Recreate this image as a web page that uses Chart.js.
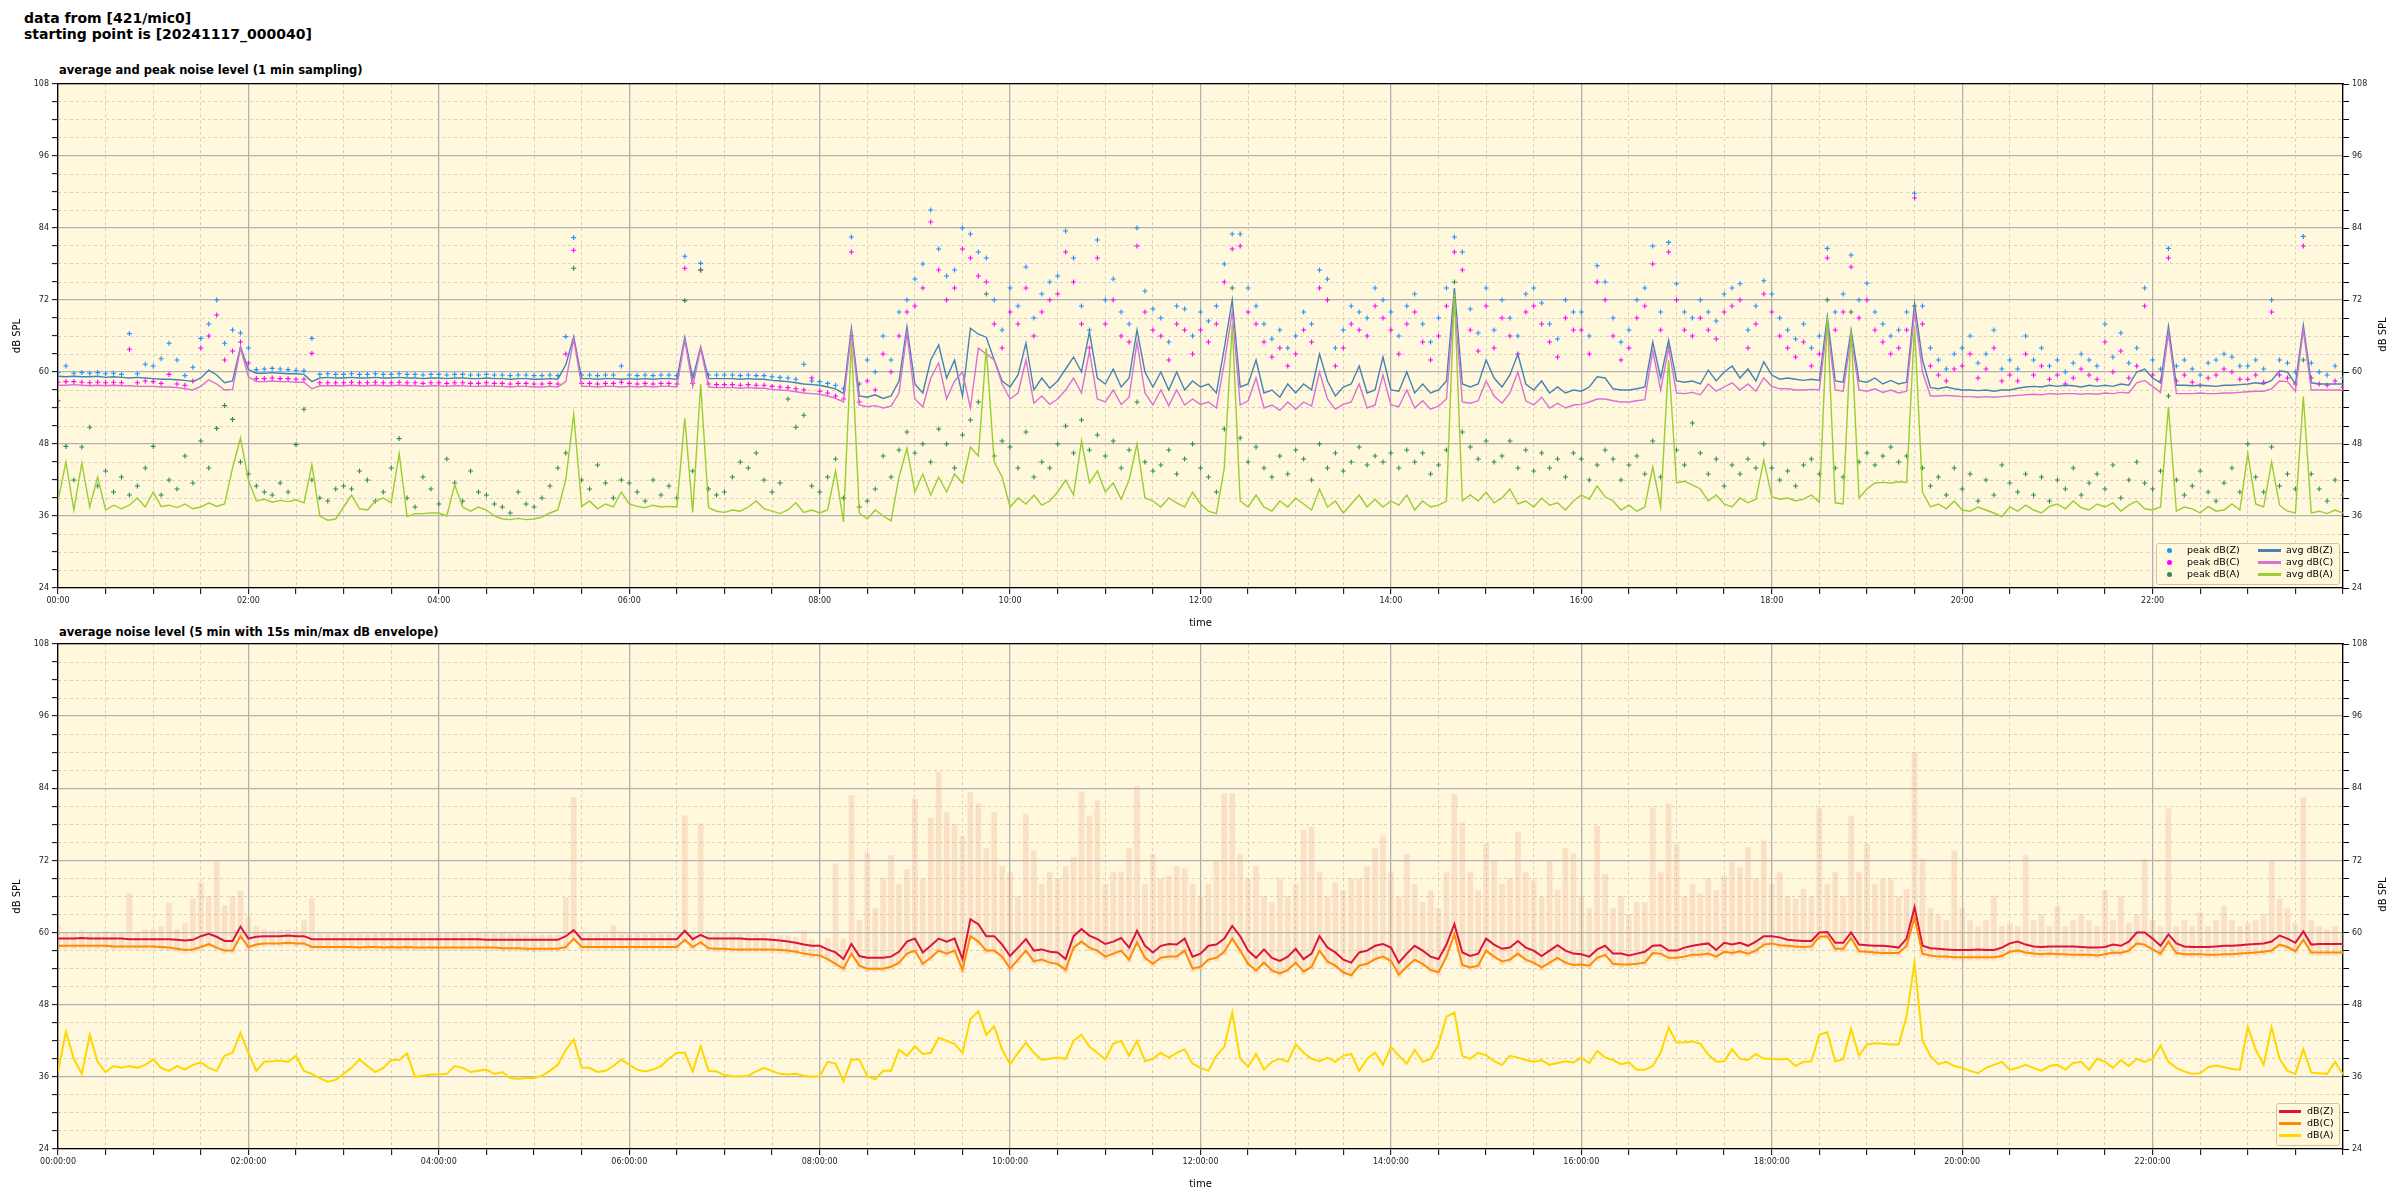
<!DOCTYPE html>
<html lang="en">
<head>
<meta charset="UTF-8">
<title>noise level 421/mic0</title>
<script src="https://cdn.jsdelivr.net/npm/chart.js"></script>
<style>
  body { margin: 0; width: 2400px; height: 1200px; background: #fff; font-family: "DejaVu Sans", sans-serif; position: relative; overflow: hidden; }
  .suptitle { position: absolute; left: 24px; top: 10px; font-size: 14px; font-weight: bold; line-height: 16px; }
  .subtitle { position: absolute; left: 59px; font-size: 11.5px; font-weight: bold; line-height: 14px; }
  canvas { position: absolute; left: 0; }
  .legend { position: absolute; background: rgba(255,248,220,0.85); border: 1px solid #d8c29a; border-radius: 3px; font-size: 9.5px; z-index: 2; }
  .legend span { position: absolute; white-space: nowrap; line-height: 12px; }
  .legend i { position: absolute; display: block; }
  .ylab-r { position: absolute; font-size: 10px; transform: rotate(-90deg); transform-origin: center; white-space: nowrap; }
</style>
</head>
<body>
<div class="suptitle">data from [421/mic0]<br>starting point is [20241117_000040]</div>
<div class="subtitle" style="top: 63px;">average and peak noise level (1 min sampling)</div>
<div class="subtitle" style="top: 625px;">average noise level (5 min with 15s min/max dB envelope)</div>
<canvas id="topChart" width="2400" height="559" style="top: 74px;"></canvas>
<canvas id="bottomChart" width="2400" height="560" style="top: 634px;"></canvas>
<div class="ylab-r" style="left: 2365px; top: 329px;">dB SPL</div>
<div class="ylab-r" style="left: 2365px; top: 889px;">dB SPL</div>

<div class="legend" style="left: 2156px; top: 543px; width: 182px; height: 40px;">
  <i style="left: 10px; top: 4px; width: 5px; height: 5px; border-radius: 50%; background: #1e90ff;"></i>
  <span style="left: 30px; top: 0px;">peak dB(Z)</span>
  <i style="left: 10px; top: 16px; width: 5px; height: 5px; border-radius: 50%; background: #ff00ff;"></i>
  <span style="left: 30px; top: 12px;">peak dB(C)</span>
  <i style="left: 10px; top: 28px; width: 5px; height: 5px; border-radius: 50%; background: #2e8b57;"></i>
  <span style="left: 30px; top: 24px;">peak dB(A)</span>
  <i style="left: 101px; top: 5px; width: 23px; height: 3px; background: #4682b4;"></i>
  <span style="left: 129px; top: 0px;">avg dB(Z)</span>
  <i style="left: 101px; top: 17px; width: 23px; height: 3px; background: #da70d6;"></i>
  <span style="left: 129px; top: 12px;">avg dB(C)</span>
  <i style="left: 101px; top: 29px; width: 23px; height: 3px; background: #9acd32;"></i>
  <span style="left: 129px; top: 24px;">avg dB(A)</span>
</div>

<div class="legend" style="left: 2276px; top: 1103px; width: 62px; height: 41px;">
  <i style="left: 2px; top: 6px; width: 22px; height: 3px; background: #dc143c;"></i>
  <span style="left: 30px; top: 1px;">dB(Z)</span>
  <i style="left: 2px; top: 18px; width: 22px; height: 3px; background: #ff8c00;"></i>
  <span style="left: 30px; top: 13px;">dB(C)</span>
  <i style="left: 2px; top: 30px; width: 22px; height: 3px; background: #ffd700;"></i>
  <span style="left: 30px; top: 25px;">dB(A)</span>
</div>

<script>
// x positions: minutes after 00:00, one sample every 5 minutes
const minutes = Array.from({ length: 289 }, (_, i) => i * 5);

const avgZ = [
  59.3, 59.2, 59.3, 59.2, 59.2, 59.3, 59.1, 59.2, 59.1, 59.0, 59.1, 59.0,
  58.9, 58.8, 58.8, 58.7, 58.6, 58.4, 59.0, 60.3, 59.5, 58.2, 58.5, 64.2,
  60.4, 59.8, 59.8, 59.9, 59.8, 59.7, 59.7, 59.6, 58.4, 59.0, 59.1, 59.0,
  59.0, 59.1, 59.0, 59.0, 59.1, 59.0, 59.0, 59.1, 59.0, 59.0, 58.9, 59.0,
  59.0, 58.9, 59.0, 59.0, 58.9, 58.9, 59.0, 58.9, 58.9, 58.8, 58.9, 58.9,
  58.8, 58.8, 58.9, 58.8, 61.2, 65.9, 58.9, 58.9, 58.8, 58.9, 58.9, 58.8,
  58.9, 58.8, 58.9, 58.8, 58.9, 58.9, 58.8, 65.8, 58.9, 64.2, 58.9, 58.9,
  58.9, 58.9, 58.8, 58.9, 58.8, 58.8, 58.6, 58.5, 58.4, 58.2, 58.0, 57.9,
  57.8, 57.5, 57.2, 56.4, 67.3, 56.0, 55.8, 56.2, 55.6, 56.0, 58.5, 67.5,
  58.0, 56.5, 62.0, 64.5, 59.0, 62.0, 56.0, 67.3, 66.3, 65.8, 62.0, 58.5,
  57.5, 59.5, 64.8, 57.0, 59.0, 57.3, 58.5, 60.5, 62.5, 60.0, 66.7, 59.0,
  58.0, 60.5, 57.5, 59.0, 67.0, 60.0, 57.5, 60.0, 57.0, 60.0, 57.0, 58.5,
  57.5, 58.0, 56.5, 64.0, 72.0, 57.5, 58.0, 62.0, 56.5, 57.0, 55.8, 58.0,
  56.5, 58.0, 57.0, 63.0, 58.5, 56.0, 57.5, 58.0, 61.0, 56.5, 57.0, 62.5,
  57.0, 56.8, 60.0, 56.5, 58.0, 56.5, 57.0, 58.5, 74.0, 58.0, 57.5, 58.0,
  62.0, 59.0, 57.5, 59.5, 63.0, 58.0, 57.0, 58.5, 56.5, 57.5, 56.5, 57.0,
  56.8, 57.5, 59.2, 59.0, 57.2, 57.0, 57.0, 57.2, 57.5, 65.0, 59.0, 65.3,
  58.5, 58.3, 58.5, 58.0, 60.3, 58.5, 60.0, 61.0, 59.0, 60.5, 58.5, 61.7,
  59.5, 58.8, 59.0, 58.8, 58.6, 58.8, 58.6, 69.2, 58.5, 58.3, 67.0, 58.5,
  58.3, 59.0, 58.0, 58.6, 58.0, 58.3, 71.4, 62.0, 57.4, 57.2, 57.5, 57.2,
  57.0, 57.0, 56.9, 57.0, 56.8, 57.0, 57.0, 57.3, 57.5, 57.6, 57.5, 57.8,
  57.6, 57.8, 57.7, 57.5, 57.8, 57.6, 57.8, 57.6, 58.0, 57.8, 60.0, 60.5,
  59.0, 58.2, 67.6, 57.8, 57.8, 57.7, 57.8, 57.7, 57.6, 57.8, 57.8, 57.9,
  58.0, 58.2, 58.0, 58.6, 60.2, 60.0, 58.0, 67.8, 58.2, 58.0, 58.0, 58.0,
  58.0
];
const avgC = [
  57.8, 57.8, 57.9, 57.8, 57.7, 57.8, 57.7, 57.8, 57.7, 57.7, 57.6, 57.6,
  57.6, 57.5, 57.5, 57.4, 57.2, 57.0, 57.6, 58.7, 58.0, 57.0, 57.1, 64.0,
  59.2, 58.4, 58.4, 58.5, 58.4, 58.4, 58.3, 58.3, 57.2, 57.7, 57.7, 57.7,
  57.7, 57.8, 57.7, 57.7, 57.8, 57.7, 57.7, 57.8, 57.7, 57.7, 57.6, 57.7,
  57.7, 57.6, 57.7, 57.7, 57.6, 57.6, 57.7, 57.6, 57.6, 57.5, 57.6, 57.6,
  57.5, 57.5, 57.6, 57.5, 58.4, 65.5, 57.6, 57.6, 57.5, 57.6, 57.6, 57.5,
  57.6, 57.5, 57.6, 57.5, 57.6, 57.6, 57.5, 65.3, 57.6, 64.0, 57.5, 57.4,
  57.4, 57.4, 57.3, 57.4, 57.3, 57.3, 57.1, 57.0, 56.9, 56.7, 56.5, 56.4,
  56.3, 56.0, 55.6, 55.0, 66.5, 54.5, 54.2, 54.4, 54.0, 54.3, 56.5, 66.5,
  55.5, 54.2, 59.0, 61.5, 55.5, 58.5, 60.0, 54.0, 64.0, 63.0, 62.0, 58.0,
  55.5, 56.5, 62.0, 54.8, 56.0, 54.6, 55.5, 57.0, 59.0, 56.5, 63.5, 55.5,
  55.0, 57.0, 54.6, 55.8, 65.0, 56.5, 54.5, 57.0, 54.4, 57.0, 54.5, 55.5,
  54.6, 55.0, 54.0, 61.5, 70.0, 54.5, 55.2, 59.0, 54.0, 54.5, 53.6, 55.0,
  53.8, 55.0, 54.3, 60.0, 55.5, 53.8, 54.6, 55.0, 58.0, 54.0, 54.5, 59.5,
  54.5, 54.2, 57.0, 54.0, 55.2, 53.8, 54.3, 55.5, 72.0, 55.0, 54.8, 55.2,
  58.5, 56.0, 54.8, 56.5, 60.0, 55.2, 54.5, 55.8, 54.0, 54.8, 54.0, 54.5,
  54.6, 55.0, 55.5, 55.5, 55.2, 55.0, 55.0, 55.2, 55.4, 63.5, 57.0, 64.0,
  56.5, 56.4, 56.6, 56.2, 58.0, 56.8, 57.5, 58.2, 57.0, 58.0, 56.8, 59.0,
  57.6, 57.2, 57.2, 57.0, 57.0, 57.1, 57.0, 68.0, 57.0, 56.8, 66.0, 57.0,
  56.8, 57.2, 56.6, 57.0, 56.5, 56.8, 70.0, 60.0, 56.0, 56.0, 56.1, 56.0,
  55.9, 55.9, 55.8, 55.9, 55.8, 55.9, 56.0, 56.1, 56.2, 56.3, 56.2, 56.4,
  56.3, 56.4, 56.4, 56.3, 56.4, 56.3, 56.5, 56.4, 56.6, 56.5, 58.2, 58.6,
  57.6, 56.6, 66.5, 56.4, 56.4, 56.4, 56.5, 56.4, 56.4, 56.5, 56.5, 56.6,
  56.7, 56.8, 56.8, 57.2, 58.5, 58.4, 56.8, 67.0, 57.0, 57.0, 57.0, 57.0,
  57.0
];
const avgA = [
  38.5, 45.0, 37.0, 44.8, 37.5, 42.5, 37.0, 37.8, 37.2, 37.8, 39.0, 37.5,
  40.0, 37.6, 37.8, 37.4, 38.0, 37.2, 37.5, 38.2, 37.6, 38.0, 44.0, 49.0,
  42.0, 38.5, 38.8, 38.3, 38.6, 38.4, 38.7, 38.2, 44.5, 36.0, 35.3, 35.5,
  37.5, 39.5, 37.2, 37.0, 38.5, 39.0, 38.2, 46.4, 35.9, 36.4, 36.4, 36.5,
  36.5, 36.0, 41.2, 37.5, 36.8, 37.5, 37.0, 36.0, 35.5, 35.4, 35.6, 35.4,
  35.5, 35.8, 36.5, 37.0, 42.0, 53.0, 37.6, 38.5, 37.2, 38.0, 37.5, 40.0,
  38.0, 37.6, 37.4, 37.8, 37.5, 37.6, 37.5, 52.3, 36.6, 58.0, 37.4, 36.8,
  36.6, 37.0, 36.8, 37.5, 38.5, 37.2, 36.8, 36.4, 37.0, 38.2, 36.6, 37.0,
  36.5, 37.0, 43.5, 35.0, 65.0, 36.5, 35.5, 37.0, 36.0, 35.2, 42.5, 47.3,
  40.0, 43.0, 39.5, 42.5, 40.0, 43.0, 41.5, 47.5, 46.0, 64.0, 45.0, 42.5,
  37.5, 39.0, 38.0, 39.5, 37.8, 38.5, 40.0, 42.0, 39.5, 48.5, 41.5, 43.5,
  40.0, 41.5, 38.8, 42.0, 48.0, 39.0, 38.5, 37.5, 39.0, 38.2, 37.5, 40.0,
  38.0, 36.8, 36.4, 44.0, 68.0, 38.5, 37.5, 39.5, 37.5, 36.8, 38.5, 37.5,
  39.0, 38.0, 37.0, 40.5, 37.5, 38.5, 36.5, 38.0, 39.5, 37.5, 38.8, 37.5,
  38.5, 37.8, 39.5, 37.0, 38.5, 37.5, 37.8, 38.5, 73.0, 38.5, 39.5, 38.5,
  40.0, 38.2, 39.0, 40.5, 38.0, 38.5, 37.5, 39.0, 37.8, 38.2, 37.0, 38.5,
  39.5, 38.8, 41.0, 39.2, 38.5, 37.0, 37.8, 36.8, 37.5, 44.2, 37.5, 62.0,
  41.5, 41.8, 41.2, 40.5, 38.5, 39.5, 38.0, 37.5, 39.0, 38.2, 38.8, 45.3,
  39.2, 38.8, 39.0, 38.5, 38.8, 39.5, 38.3, 69.2, 38.2, 38.0, 67.0, 39.0,
  40.5, 41.5, 41.6, 41.5, 41.7, 41.6, 67.6, 40.0, 37.5, 38.0, 37.2, 38.5,
  37.0, 36.8, 37.5, 37.0, 36.5, 35.9, 37.5, 36.8, 37.8, 37.0, 36.5, 37.6,
  38.0, 37.2, 38.5, 37.4, 37.0, 38.0, 37.5, 38.2, 36.8, 37.8, 38.5, 37.2,
  37.0, 37.5, 54.2, 36.8, 37.5, 37.2, 36.5, 37.6, 36.8, 37.0, 38.0, 37.0,
  46.4, 38.0, 37.5, 45.0, 37.8, 36.8, 36.5, 55.9, 36.5, 36.8, 36.4, 37.0,
  36.5
];
const peakZ = [
  59.9, 61.0, 59.8, 59.9, 59.8, 59.9, 59.7, 59.8, 59.6, 66.4, 59.7, 61.3,
  61.0, 62.2, 64.8, 62.0, 59.4, 60.8, 65.6, 68.0, 72.0, 64.8, 67.0, 66.5,
  64.0, 60.4, 60.5, 60.6, 60.5, 60.4, 60.3, 60.2, 65.6, 59.6, 59.7, 59.6,
  59.6, 59.7, 59.6, 59.6, 59.7, 59.6, 59.6, 59.7, 59.6, 59.6, 59.5, 59.6,
  59.6, 59.5, 59.6, 59.6, 59.5, 59.5, 59.6, 59.5, 59.5, 59.4, 59.5, 59.5,
  59.4, 59.4, 59.5, 59.4, 65.9, 82.4, 59.5, 59.5, 59.4, 59.5, 59.5, 61.0,
  59.5, 59.4, 59.5, 59.4, 59.5, 59.5, 59.4, 79.3, 59.5, 78.1, 59.5, 59.5,
  59.5, 59.5, 59.4, 59.5, 59.4, 59.4, 59.2, 59.1, 59.0, 58.8, 61.3, 58.5,
  58.4, 58.1, 57.8, 57.2, 82.5, 58.0, 62.0, 60.0, 66.0, 62.0, 70.0, 72.0,
  75.5, 78.0, 87.0, 80.5, 76.0, 77.0, 84.0, 83.0, 80.0, 79.0, 72.0, 67.0,
  74.0, 71.0, 77.5, 69.0, 73.0, 75.0, 76.0, 83.5, 79.0, 71.0, 67.0, 82.0,
  72.0, 75.5, 70.0, 68.0, 84.0, 73.5, 70.5, 69.0, 65.0, 71.0, 70.5, 66.0,
  70.0, 68.5, 71.0, 78.0, 83.0, 83.0, 74.0, 71.0, 68.0, 65.5, 67.0, 64.0,
  66.0, 70.0, 68.0, 77.0, 75.5, 64.0, 67.0, 71.0, 70.0, 69.0, 74.0, 72.0,
  70.0, 66.0, 71.0, 73.0, 68.0, 65.0, 69.0, 74.0, 82.5, 80.0, 70.5, 66.5,
  74.0, 67.0, 72.0, 69.0, 66.0, 73.0, 74.0, 71.5, 68.0, 65.5, 72.0, 70.0,
  70.0, 66.0, 77.7, 75.0, 69.0, 65.0, 67.0, 72.0, 74.0, 81.0, 70.0, 81.6,
  74.7, 70.0, 69.0, 72.0, 70.0, 68.5, 73.0, 74.0, 74.7, 67.0, 71.0, 75.2,
  73.0, 69.0, 67.0, 65.5, 68.0, 64.0, 66.0, 80.6, 70.0, 73.0, 79.5, 72.0,
  74.8, 70.0, 68.0, 66.0, 67.0, 70.0, 89.8, 71.0, 64.0, 62.0, 60.5, 63.0,
  64.0, 66.0, 61.5, 63.0, 67.0, 60.5, 62.0, 60.5, 66.0, 62.0, 64.0, 61.0,
  62.0, 60.0, 61.5, 63.0, 62.0, 61.0, 68.0, 62.5, 66.5, 61.5, 64.0, 74.0,
  62.0, 60.5, 80.6, 61.0, 62.0, 60.5, 59.5, 61.5, 62.0, 63.0, 62.5, 61.0,
  61.0, 62.0, 60.5, 72.0, 62.0, 61.5, 60.0, 82.6, 61.5, 60.0, 59.5, 61.0,
  59.0
];
const peakC = [
  58.3, 58.4, 58.4, 58.3, 58.2, 58.3, 58.2, 58.3, 58.2, 63.8, 58.2, 58.5,
  58.4, 58.1, 59.6, 58.0, 57.8, 58.5, 64.0, 66.0, 69.5, 62.0, 63.5, 65.0,
  61.5, 58.9, 58.9, 59.0, 58.9, 58.9, 58.8, 58.8, 63.1, 58.2, 58.2, 58.2,
  58.2, 58.3, 58.2, 58.2, 58.3, 58.2, 58.2, 58.3, 58.2, 58.2, 58.1, 58.2,
  58.2, 58.1, 58.2, 58.2, 58.1, 58.1, 58.2, 58.1, 58.1, 58.0, 58.1, 58.1,
  58.0, 58.0, 58.1, 58.0, 63.0, 80.3, 58.1, 58.1, 58.0, 58.1, 58.1, 58.3,
  58.1, 58.0, 58.1, 58.0, 58.1, 58.1, 58.0, 77.3, 58.1, 77.0, 58.0, 57.9,
  57.9, 57.9, 57.8, 57.9, 57.8, 57.8, 57.6, 57.5, 57.4, 57.2, 57.0, 59.0,
  56.8, 56.5, 56.0, 55.5, 80.0, 55.0, 58.5, 57.0, 63.0, 60.0, 66.0, 70.0,
  71.0, 74.0, 85.0, 77.0, 72.0, 74.0, 80.5, 79.0, 76.0, 75.0, 68.0, 64.0,
  70.0, 68.0, 74.0, 66.0, 70.0, 72.0, 73.0, 80.0, 75.0, 68.0, 64.0, 79.0,
  68.0, 72.0, 66.0, 65.0, 81.0, 70.0, 67.0, 66.0, 62.0, 68.0, 67.0, 63.0,
  67.0, 65.0, 68.0, 75.0, 80.5, 81.0, 70.0, 68.0, 65.0, 62.5, 64.0, 61.0,
  63.0, 67.0, 65.0, 74.0, 72.0, 61.0, 64.0, 68.0, 67.0, 66.0, 71.0, 69.0,
  67.0, 63.0, 68.0, 70.0, 65.0, 62.0, 66.0, 71.0, 80.0, 77.0, 67.0, 63.5,
  71.0, 64.0, 69.0, 66.0, 63.0, 70.0, 71.0, 68.0, 65.0, 62.5, 69.0, 67.0,
  67.0, 63.0, 75.0, 72.0, 66.0, 62.0, 64.0, 69.0, 71.0, 78.0, 67.0, 80.0,
  72.0, 67.0, 66.0, 69.0, 67.0, 65.5, 70.0, 71.0, 72.0, 64.0, 68.0, 73.0,
  70.0, 66.0, 64.0, 62.5, 65.0, 61.0, 63.0, 79.0, 67.0, 70.0, 77.5, 69.0,
  72.0, 67.0, 65.0, 63.0, 64.0, 67.0, 89.0, 68.0, 61.0, 59.5, 58.5, 60.5,
  61.0, 63.0, 59.0, 60.5, 64.0, 58.5, 59.5, 58.5, 63.0, 59.5, 61.0, 58.8,
  59.5, 58.0, 59.0, 60.5, 59.5, 58.8, 65.0, 60.0, 63.5, 59.0, 61.0, 71.0,
  59.5, 58.5, 79.0, 58.5, 59.5, 58.3, 57.8, 59.0, 59.5, 60.5, 60.0, 58.8,
  58.8, 59.5, 58.3, 70.0, 59.5, 59.0, 58.0, 81.0, 59.0, 58.0, 57.8, 58.5,
  57.5
];
const peakA = [
  55.2, 47.6, 42.0, 47.5, 50.8, 41.0, 43.5, 40.0, 42.5, 39.5, 41.0, 44.0,
  47.6, 39.5, 42.0, 40.5, 46.0, 41.5, 48.5, 44.0, 50.6, 54.4, 52.1, 45.0,
  43.0, 41.0, 40.0, 39.5, 41.5, 40.0, 47.9, 53.8, 42.0, 39.0, 38.5, 40.5,
  41.0, 40.5, 43.5, 42.0, 38.5, 40.0, 44.0, 48.9, 39.0, 37.5, 42.5, 40.5,
  38.0, 45.5, 41.5, 38.5, 43.5, 40.0, 39.5, 38.0, 37.5, 36.5, 40.0, 38.0,
  37.5, 39.0, 41.0, 44.0, 46.5, 77.3, 42.0, 40.5, 44.5, 41.5, 39.0, 42.0,
  41.5, 40.0, 38.5, 42.0, 39.5, 41.0, 39.0, 71.9, 43.5, 77.0, 40.5, 39.5,
  40.0, 42.5, 45.0, 44.0, 46.5, 42.0, 40.0, 41.5, 55.5, 50.8, 52.8, 41.0,
  40.0, 42.5, 45.5, 39.0, 66.0, 37.5, 38.5, 40.5, 46.0, 42.5, 47.0, 50.0,
  46.5, 48.0, 45.0, 50.5, 48.0, 44.0, 49.5, 52.0, 55.0, 73.0, 46.0, 48.5,
  47.5, 44.0, 50.0, 42.5, 45.0, 44.0, 48.0, 51.0, 46.5, 52.0, 47.0, 49.5,
  46.0, 48.5, 44.0, 47.0, 55.0, 45.0, 43.5, 44.5, 47.0, 43.0, 45.5, 48.0,
  44.0, 42.5, 40.0, 50.5, 74.0, 49.0, 45.0, 47.5, 44.0, 42.5, 46.0, 43.0,
  47.0, 45.5, 42.0, 48.0, 44.0, 46.5, 43.5, 45.0, 47.5, 44.5, 46.0, 45.0,
  46.5, 44.0, 47.0, 45.0, 46.5, 43.0, 44.5, 47.0, 75.0, 50.0, 47.5, 45.5,
  48.5, 45.0, 46.0, 48.5, 44.0, 47.0, 43.5, 46.5, 44.0, 45.5, 42.5, 46.5,
  45.5, 42.0, 44.5, 47.0, 45.5, 42.0, 44.5, 46.0, 43.0, 48.5, 42.5, 64.0,
  47.0, 44.5, 51.5, 46.5, 43.0, 45.5, 41.0, 44.5, 43.0, 45.5, 44.0, 48.0,
  44.0, 42.0, 43.5, 41.0, 44.5, 45.5, 43.0, 72.0, 44.0, 42.5, 70.0, 45.0,
  46.5, 44.5, 46.0, 47.5, 45.0, 46.0, 71.0, 44.0, 41.0, 42.5, 39.5, 44.0,
  40.5, 43.0, 38.5, 42.0, 39.5, 44.5, 41.5, 40.0, 43.0, 39.5, 42.5, 38.5,
  42.0, 40.5, 44.0, 39.5, 41.5, 43.0, 40.5, 44.5, 39.0, 42.0, 45.0, 41.5,
  40.5, 43.5, 56.0, 42.0, 39.5, 41.0, 43.5, 40.0, 38.5, 41.5, 44.0, 40.0,
  48.0, 42.5, 40.0, 47.5, 41.0, 43.0, 40.5, 62.0, 43.0, 40.5, 38.5, 42.0,
  39.5
];

// ---- bottom chart: 5 min averages and 15 s envelope maximum ----
const dbZ = [
  59.0, 59.0, 59.0, 59.1, 59.0, 59.0, 59.0, 59.0, 59.0, 58.9, 58.9, 58.9,
  58.9, 58.9, 58.9, 58.8, 58.7, 58.8, 59.4, 59.8, 59.3, 58.6, 58.6, 61.0,
  59.0, 59.3, 59.4, 59.4, 59.4, 59.5, 59.4, 59.4, 58.9, 58.9, 58.9, 58.9,
  58.9, 58.9, 58.9, 58.9, 58.9, 58.9, 58.9, 58.9, 58.9, 58.9, 58.9, 58.9,
  58.9, 58.9, 58.9, 58.9, 58.9, 58.9, 58.8, 58.8, 58.8, 58.8, 58.8, 58.8,
  58.8, 58.8, 58.8, 58.8, 59.4, 60.4, 58.9, 58.9, 58.9, 58.9, 58.9, 58.9,
  58.9, 58.9, 58.9, 58.9, 58.9, 58.9, 58.9, 60.3, 58.9, 59.6, 59.0, 59.0,
  59.0, 59.0, 59.0, 58.9, 58.9, 58.9, 58.8, 58.7, 58.5, 58.3, 58.0, 57.8,
  57.8, 57.2, 56.7, 55.6, 58.1, 56.1, 55.8, 55.8, 55.8, 56.0, 56.8, 58.5,
  59.0, 56.7, 57.8, 59.0, 58.5, 59.0, 55.6, 62.2, 61.4, 59.4, 59.4, 58.0,
  56.1, 57.5, 58.9, 57.0, 57.2, 56.8, 56.7, 55.6, 59.4, 60.6, 59.5, 58.9,
  58.1, 58.5, 59.1, 57.5, 60.3, 57.8, 56.7, 57.8, 58.1, 58.0, 59.0, 56.0,
  56.5, 57.8, 58.0, 59.0, 61.1, 59.4, 57.0, 55.8, 57.2, 55.8, 55.3, 56.0,
  57.3, 55.6, 56.5, 59.4, 57.5, 56.7, 55.5, 55.0, 56.7, 57.0, 57.8, 58.1,
  57.5, 55.0, 56.5, 57.8, 57.0, 56.0, 55.6, 58.0, 61.4, 56.7, 56.1, 56.5,
  59.0, 58.0, 57.3, 57.5, 58.6, 57.5, 57.0, 56.1, 57.0, 57.9, 57.0, 56.5,
  56.4, 56.0, 57.2, 57.8, 56.5, 56.5, 56.2, 56.5, 56.8, 57.8, 57.9, 57.0,
  57.0, 57.5, 57.8, 58.0, 58.2, 57.1, 58.3, 58.0, 58.3, 57.8, 58.5, 59.4,
  59.4, 59.2, 58.8, 58.7, 58.6, 58.6, 60.0, 60.1, 58.3, 58.3, 60.0, 58.0,
  57.9, 57.8, 57.8, 57.7, 57.5, 59.0, 64.2, 57.8, 57.4, 57.3, 57.2, 57.1,
  57.1, 57.1, 57.2, 57.1, 57.1, 57.5, 58.2, 58.5, 58.0, 57.7, 57.6, 57.7,
  57.7, 57.7, 57.7, 57.6, 57.5, 57.5, 57.6, 58.0, 57.8, 58.5, 60.0, 60.0,
  59.0, 57.8, 59.7, 58.2, 57.7, 57.6, 57.6, 57.6, 57.7, 57.8, 57.8, 57.9,
  58.0, 58.1, 58.2, 58.5, 59.5, 59.0, 58.3, 60.2, 58.0, 58.1, 58.1, 58.1,
  58.1
];
const dbC = [
  57.8, 57.8, 57.8, 57.8, 57.8, 57.8, 57.8, 57.7, 57.7, 57.7, 57.7, 57.7,
  57.7, 57.6, 57.5, 57.3, 57.1, 57.2, 57.6, 58.1, 57.5, 57.0, 57.0, 59.4,
  57.6, 58.0, 58.2, 58.2, 58.2, 58.3, 58.2, 58.2, 57.6, 57.6, 57.6, 57.6,
  57.6, 57.6, 57.5, 57.6, 57.6, 57.5, 57.6, 57.5, 57.6, 57.5, 57.5, 57.5,
  57.5, 57.5, 57.5, 57.5, 57.5, 57.5, 57.5, 57.5, 57.4, 57.4, 57.4, 57.3,
  57.3, 57.3, 57.3, 57.3, 57.6, 59.0, 57.6, 57.6, 57.6, 57.6, 57.6, 57.6,
  57.6, 57.6, 57.6, 57.6, 57.6, 57.6, 57.6, 58.8, 57.6, 58.4, 57.4, 57.3,
  57.3, 57.2, 57.2, 57.2, 57.2, 57.2, 57.2, 57.1, 57.0, 56.8, 56.5, 56.3,
  56.2, 55.6, 54.8, 54.0, 56.5, 54.5, 54.0, 54.0, 54.0, 54.3, 55.0, 56.5,
  57.0, 54.8, 55.8, 57.0, 56.5, 57.0, 53.8, 59.4, 58.5, 57.0, 57.0, 56.0,
  54.0, 55.5, 57.0, 55.2, 55.5, 55.0, 54.8, 53.8, 57.5, 58.5, 57.5, 57.0,
  56.0, 56.5, 57.0, 55.5, 58.4, 55.8, 54.8, 55.8, 56.0, 56.0, 57.0, 54.0,
  54.3, 55.5, 55.8, 56.8, 59.0, 57.0, 54.8, 53.7, 55.0, 53.7, 53.2, 53.8,
  55.0, 53.5, 54.3, 57.0, 55.2, 54.5, 53.4, 52.9, 54.5, 54.8, 55.6, 56.0,
  55.3, 53.0, 54.3, 55.5, 54.8, 53.8, 53.4, 56.0, 59.7, 54.6, 54.2, 54.5,
  57.0, 56.0, 55.2, 55.5, 56.5, 55.5, 55.0, 54.2, 55.0, 55.8, 55.0, 54.6,
  54.7, 54.5, 55.8, 56.3, 54.8, 54.7, 54.7, 54.8, 55.0, 56.6, 56.5, 55.8,
  55.8, 56.0, 56.3, 56.3, 56.5, 56.0, 56.8, 56.6, 56.9, 56.5, 57.0, 58.0,
  58.2, 57.9, 57.8, 57.7, 57.6, 57.7, 59.3, 59.4, 57.3, 57.3, 59.1, 56.9,
  56.8, 56.7, 56.6, 56.6, 56.6, 57.8, 62.5, 56.5, 56.2, 56.0, 56.0, 55.9,
  55.9, 55.9, 55.9, 55.9, 55.9, 56.1, 56.8, 57.0, 56.7, 56.5, 56.4, 56.5,
  56.4, 56.4, 56.3, 56.3, 56.3, 56.2, 56.4, 56.7, 56.6, 57.0, 58.2, 58.0,
  57.2, 56.5, 58.5, 56.6, 56.4, 56.4, 56.4, 56.3, 56.3, 56.4, 56.4, 56.5,
  56.6, 56.7, 56.8, 57.0, 58.0, 57.6, 56.9, 58.8, 56.7, 56.7, 56.7, 56.7,
  56.7
];
const dbA = [
  36.9, 43.5, 39.0, 36.5, 43.0, 38.5, 36.8, 37.8, 37.5, 37.8, 37.5, 38.0,
  38.9, 37.5, 37.0, 37.8, 37.2, 38.0, 38.4, 37.5, 37.0, 39.5, 40.0, 43.3,
  40.0, 37.0, 38.5, 38.6, 38.7, 38.5, 39.5, 37.0, 36.5, 35.8, 35.2, 35.5,
  36.5, 37.5, 38.9, 37.8, 36.8, 37.5, 38.8, 38.8, 39.9, 36.0, 36.2, 36.4,
  36.4, 36.5, 37.8, 37.5, 36.8, 37.0, 37.2, 36.5, 36.8, 35.8, 35.7, 35.8,
  35.8, 36.2, 37.0, 38.0, 40.5, 42.2, 37.5, 37.5, 36.8, 37.0, 37.8, 38.9,
  38.0, 37.2, 36.9, 37.2, 37.8, 39.0, 40.0, 40.0, 36.9, 41.1, 37.0, 36.9,
  36.3, 36.1, 36.1, 36.2, 36.9, 37.5, 37.0, 36.5, 36.4, 36.5, 36.2, 36.0,
  36.1, 38.5, 38.2, 35.3, 38.9, 38.9, 36.1, 35.6, 37.0, 37.0, 40.5, 39.5,
  41.1, 39.8, 40.0, 42.5, 42.0, 41.5, 40.0, 45.6, 46.9, 43.0, 44.4, 40.5,
  38.1, 40.0, 41.7, 40.0, 38.8, 39.0, 39.2, 39.0, 42.0, 43.0, 41.0, 40.0,
  38.9, 41.5, 42.0, 39.5, 42.0, 38.6, 39.0, 40.0, 39.2, 40.0, 40.6, 38.2,
  37.5, 37.0, 39.5, 41.0, 46.7, 39.0, 37.7, 39.8, 37.2, 38.5, 39.0, 38.5,
  41.4, 40.0, 39.0, 38.6, 39.2, 38.5, 39.5, 39.8, 37.0, 39.0, 40.0, 38.0,
  41.0, 39.5, 38.2, 40.5, 38.5, 39.0, 41.4, 46.0, 46.7, 39.5, 39.0, 40.0,
  39.6, 38.6, 38.0, 39.5, 39.2, 38.8, 38.5, 38.8, 38.0, 38.3, 38.6, 38.4,
  39.2, 38.3, 40.3, 39.2, 38.8, 38.1, 38.4, 37.2, 37.2, 37.8, 40.0, 44.2,
  41.7, 41.7, 41.9, 41.5, 39.7, 38.5, 38.6, 40.6, 39.0, 38.8, 39.8, 39.0,
  39.0, 38.9, 39.0, 37.8, 38.5, 38.6, 43.0, 43.4, 38.6, 38.9, 44.0, 39.5,
  41.4, 41.6, 41.5, 41.4, 41.4, 46.1, 55.0, 42.0, 39.5, 38.1, 38.5, 37.8,
  37.5, 37.0, 36.6, 37.5, 38.0, 38.5, 37.2, 37.5, 38.0, 37.5, 37.0, 37.8,
  38.0, 37.2, 38.3, 38.5, 37.2, 39.0, 38.5, 37.5, 38.8, 37.8, 39.0, 38.5,
  39.0, 41.2, 38.5, 37.5, 36.9, 36.5, 36.6, 37.6, 37.9, 37.6, 37.3, 37.2,
  44.3, 40.5, 38.0, 44.3, 39.0, 37.0, 36.5, 40.6, 36.7, 36.6, 36.5, 38.5,
  36.4
];
const envHi = [
  61.0, 60.0, 60.0, 60.3, 59.8, 60.0, 60.2, 59.8, 60.0, 66.5, 60.0, 60.5,
  60.5, 61.0, 64.9, 60.5, 61.5, 65.6, 68.3, 66.0, 71.8, 64.5, 66.0, 66.9,
  62.5, 61.0, 60.5, 60.3, 60.4, 60.5, 60.3, 62.0, 65.7, 59.8, 59.8, 59.8,
  59.8, 59.9, 59.8, 59.7, 59.8, 59.9, 59.8, 59.8, 59.7, 59.8, 59.8, 59.7,
  59.7, 60.0, 59.8, 59.7, 59.7, 59.8, 59.7, 59.7, 60.0, 59.7, 59.7, 59.6,
  59.6, 59.6, 59.6, 59.6, 65.8, 82.5, 60.0, 59.8, 59.8, 59.7, 61.1, 59.7,
  59.7, 59.8, 59.7, 59.8, 59.7, 59.7, 59.8, 79.4, 59.8, 78.1, 60.2, 59.9,
  59.9, 59.9, 59.8, 59.8, 59.7, 59.8, 59.6, 59.5, 59.4, 59.2, 60.3, 58.8,
  58.0, 59.0, 71.4, 59.0, 82.8, 62.0, 73.3, 64.0, 69.0, 72.8, 68.0, 70.5,
  82.2, 69.0, 79.0, 86.7, 80.0, 78.0, 76.0, 83.3, 81.4, 74.0, 80.0, 71.0,
  70.0, 66.0, 79.7, 73.6, 68.0, 70.0, 69.0, 71.0, 72.5, 83.4, 79.4, 81.9,
  68.0, 70.0, 70.0, 74.0, 84.3, 68.0, 73.0, 69.0, 69.4, 71.0, 70.6, 68.0,
  66.0, 68.0, 72.0, 83.1, 83.1, 73.0, 68.9, 71.0, 66.0, 65.0, 68.9, 66.0,
  68.0, 77.0, 77.5, 70.0, 66.0, 68.3, 67.0, 69.0, 68.9, 71.0, 74.0, 76.1,
  70.0, 66.0, 73.0, 68.0, 65.0, 67.0, 64.0, 70.0, 83.0, 78.3, 70.0, 67.0,
  74.7, 72.0, 68.0, 69.0, 76.7, 70.0, 68.6, 66.0, 72.0, 67.0, 74.0, 73.1,
  66.0, 64.0, 77.7, 69.7, 64.0, 66.0, 63.0, 65.0, 65.0, 80.8, 70.0, 81.4,
  74.6, 66.0, 68.0, 66.4, 69.0, 67.0, 69.4, 71.7, 70.8, 74.2, 69.0, 75.3,
  68.0, 70.0, 66.0, 65.6, 67.2, 66.0, 80.6, 68.0, 70.0, 66.0, 79.4, 70.0,
  74.7, 68.0, 69.0, 68.9, 66.0, 67.2, 90.0, 72.2, 64.0, 63.0, 62.0, 73.6,
  64.0, 62.0, 61.0, 62.0, 66.1, 61.0, 61.5, 61.0, 72.8, 62.0, 63.0, 61.0,
  64.4, 61.0, 62.0, 63.0, 62.0, 61.0, 67.0, 62.0, 66.0, 61.5, 63.0, 72.2,
  62.0, 61.0, 80.6, 61.0, 62.0, 61.0, 63.3, 61.0, 62.0, 64.4, 62.0, 61.0,
  61.5, 62.0, 63.0, 71.9, 65.6, 64.0, 61.5, 82.5, 62.0, 61.0, 60.5, 61.0,
  60.0
];

// y axis: 24..108 dB, labels every 12, minor grid every 3
const yMin = 24, yMax = 108, yMajor = 12, yStep = 3;

const pad2 = n => String(n).padStart(2, '0');
const hhmm = v => pad2(Math.floor(v / 60)) + ':' + pad2(v % 60);
const hhmmss = v => hhmm(v) + ':00';
const pts = ys => minutes.map((m, i) => ({ x: m, y: ys[i] }));

const plotBackground = {
  id: 'plotBackground',
  beforeDraw(chart) {
    const a = chart.chartArea, ctx = chart.ctx;
    ctx.save();
    ctx.fillStyle = '#fff8dc';
    ctx.fillRect(a.left, a.top, a.right - a.left, a.bottom - a.top);
    ctx.restore();
  }
};

Chart.defaults.font.family = '"DejaVu Sans", sans-serif';
Chart.defaults.color = '#222';

function buildScales(fmt) {
  const isMajorX = v => v % 120 === 0;
  const isMajorY = v => (v - yMin) % yMajor === 0;
  const tv = c => (c.tick ? c.tick.value : NaN);
  return {
    x: {
      type: 'linear', position: 'bottom', min: 0, max: 1440, offset: false,
      afterFit: s => { s.height = 45; },
      ticks: { stepSize: 30, autoSkip: false, maxRotation: 0, padding: 2, font: { size: 8 },
        callback: v => (isMajorX(v) && v < 1440) ? fmt(v) : '' },
      grid: { offset: false, color: c => isMajorX(tv(c)) ? '#b2b2b2' : 'rgba(0,0,0,0)', lineWidth: 1.3,
        tickLength: 6, tickColor: '#000', tickWidth: 1 },
      border: { color: '#000', width: 1.3 },
      title: { display: true, text: 'time', font: { size: 10 }, color: '#000', padding: { top: 2, bottom: 4 } }
    },
    xMinor: {
      type: 'linear', position: 'top', min: 0, max: 1440, offset: false,
      afterFit: s => { s.height = 0; },
      ticks: { stepSize: 30, display: false },
      grid: { offset: false, color: c => isMajorX(tv(c)) ? 'rgba(0,0,0,0)' : '#cdc6b6', lineWidth: 0.8, drawTicks: false },
      border: { color: '#000', width: 1.3, dash: [3, 3] }
    },
    y: {
      type: 'linear', position: 'left', min: yMin, max: yMax,
      afterFit: s => { s.width = 58; },
      ticks: { stepSize: yStep, autoSkip: false, padding: 3, font: { size: 8 },
        callback: v => isMajorY(v) ? v : '' },
      grid: { color: c => isMajorY(tv(c)) ? '#b2b2b2' : 'rgba(0,0,0,0)', lineWidth: 1.3,
        tickLength: 6, tickColor: '#000', tickWidth: 1 },
      border: { color: '#000', width: 1.3 },
      title: { display: true, text: 'dB SPL', font: { size: 10 }, color: '#000', padding: 11 }
    },
    yMinor: {
      type: 'linear', position: 'left', min: yMin, max: yMax,
      afterFit: s => { s.width = 0; },
      ticks: { stepSize: yStep, display: false },
      grid: { color: c => isMajorY(tv(c)) ? 'rgba(0,0,0,0)' : '#cdc6b6', lineWidth: 0.8, drawTicks: false },
      border: { display: false, dash: [3, 3] }
    },
    yR: {
      type: 'linear', position: 'right', min: yMin, max: yMax,
      afterFit: s => { s.width = 57; },
      ticks: { stepSize: yStep, autoSkip: false, padding: 3, font: { size: 8 },
        callback: v => isMajorY(v) ? v : '' },
      grid: { drawOnChartArea: false, tickLength: 6, tickColor: '#000', tickWidth: 1 },
      border: { color: '#000', width: 1.3 }
    }
  };
}

function baseOptions(fmt) {
  return {
    responsive: false,
    animation: false,
    devicePixelRatio: 1,
    layout: { padding: { top: 10, left: 0, right: 0, bottom: 0 } },
    plugins: { legend: { display: false }, tooltip: { enabled: false } },
    elements: { line: { tension: 0 } },
    scales: buildScales(fmt)
  };
}

const lineSet = (label, ys, color, width) => ({
  label, data: pts(ys), borderColor: color, backgroundColor: color,
  borderWidth: width, pointRadius: 0, fill: false
});
const peakSet = (label, ys, color) => ({
  label, data: pts(ys), showLine: false, pointStyle: 'cross',
  pointRadius: 2.5, borderColor: color, borderWidth: 1.1, backgroundColor: color
});

new Chart(document.getElementById('topChart'), {
  type: 'line',
  data: {
    datasets: [
      lineSet('avg dB(A)', avgA, '#9acd32', 1.4),
      lineSet('avg dB(C)', avgC, '#da70d6', 1.4),
      lineSet('avg dB(Z)', avgZ, '#4682b4', 1.4),
      peakSet('peak dB(A)', peakA, '#2e8b57'),
      peakSet('peak dB(C)', peakC, '#ff00ff'),
      peakSet('peak dB(Z)', peakZ, '#1e90ff')
    ]
  },
  options: baseOptions(hhmm),
  plugins: [plotBackground]
});

new Chart(document.getElementById('bottomChart'), {
  type: 'line',
  data: {
    datasets: [
      lineSet('dB(A)', dbA, '#ffd700', 2),
      lineSet('dB(C)', dbC, '#ff8c00', 2),
      lineSet('dB(Z)', dbZ, '#dc143c', 2),
      {
        type: 'bar', label: 'envelope',
        data: minutes.map((m, i) => ({ x: m, y: [dbC[i] - 0.5, envHi[i]] })),
        backgroundColor: 'rgba(236,160,135,0.27)', borderWidth: 0,
        barThickness: 5, grouped: false
      }
    ]
  },
  options: baseOptions(hhmmss),
  plugins: [plotBackground]
});
</script>
</body>
</html>
